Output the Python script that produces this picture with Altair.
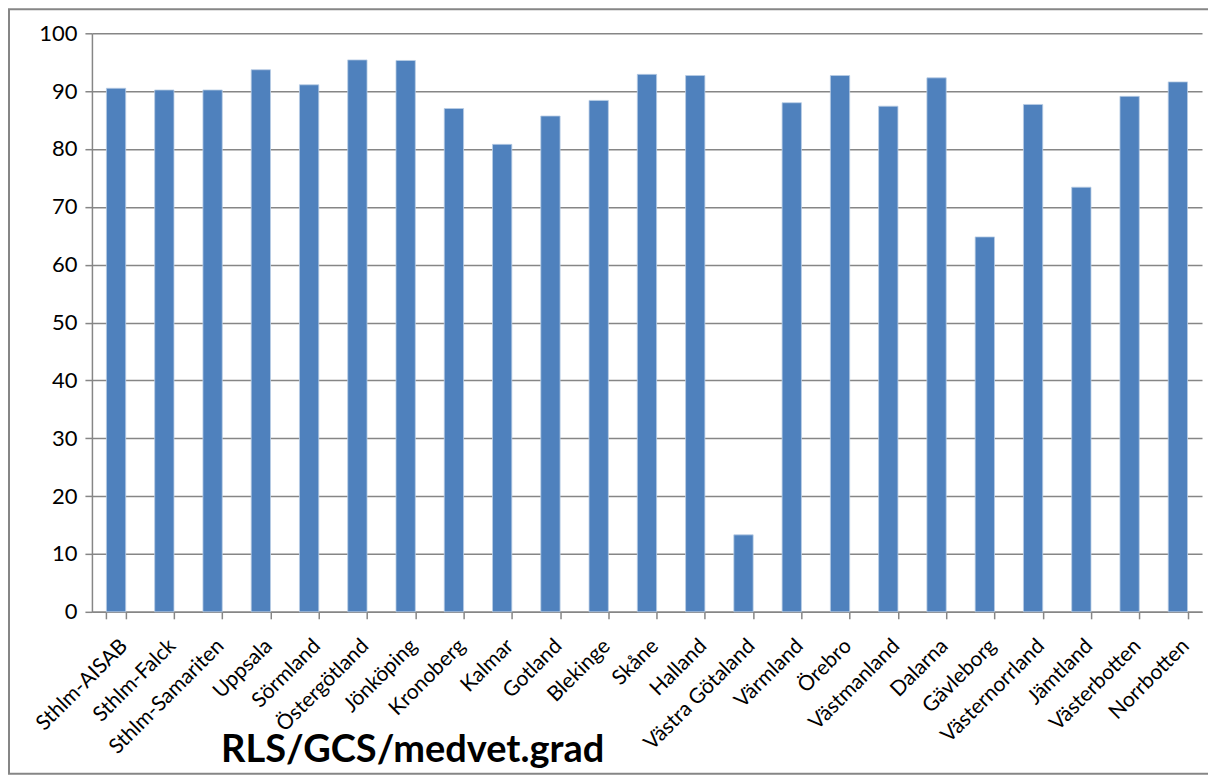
import altair as alt
import pandas as pd

categories = [
    "Sthlm-AISAB", "Sthlm-Falck", "Sthlm-Samariten", "Uppsala", "Sörmland",
    "Östergötland", "Jönköping", "Kronoberg", "Kalmar", "Gotland", "Blekinge",
    "Skåne", "Halland", "Västra Götaland", "Värmland", "Örebro", "Västmanland",
    "Dalarna", "Gävleborg", "Västernorrland", "Jämtland", "Västerbotten", "Norrbotten",
]
values = [
    90.5, 90.2, 90.2, 93.7, 91.1,
    95.4, 95.3, 87.0, 80.8, 85.7, 88.4,
    92.9, 92.7, 13.3, 88.0, 92.7, 87.4,
    92.3, 64.8, 87.7, 73.4, 89.1, 91.6,
]
y_ticks = [0, 10, 20, 30, 40, 50, 60, 70, 80, 90, 100]
title_text = "RLS/GCS/medvet.grad"

df = pd.DataFrame({"region": categories, "value": values})

W, H = 1111, 579
GRID = "#868686"
FONT = "Lato"

bars = alt.Chart(df).mark_bar(color="#4F81BD", stroke="#B9CDE5", strokeWidth=0.8).encode(
    x=alt.X(
        "region:N",
        sort=categories,
        scale=alt.Scale(paddingInner=0.6, paddingOuter=0.3),
        axis=alt.Axis(
            title=None, labelAngle=-45, labelFontSize=21, labelFont=FONT,
            labelColor="black", tickBand="extent", tickSize=7, tickColor=GRID,
            tickWidth=1.5, domainColor=GRID, domainWidth=1.5, grid=False,
            labelPadding=16,
        ),
    ),
    y=alt.Y(
        "value:Q",
        scale=alt.Scale(domain=[0, 100], nice=False),
        axis=alt.Axis(
            title=None, values=y_ticks, grid=True, gridColor=GRID, gridWidth=1.5,
            gridOpacity=1, labelFontSize=22, labelFont=FONT, labelColor="black",
            tickSize=7, tickColor=GRID, tickWidth=1.5, domainColor=GRID,
            domainWidth=1.5, labelPadding=8,
        ),
    ),
)

frame = alt.Chart(pd.DataFrame({"f": [1]})).mark_rect(
    fill=None, stroke=GRID, strokeWidth=2
).encode(
    x=alt.value(-83), x2=alt.value(1118), y=alt.value(-24), y2=alt.value(741)
)

title = alt.Chart(pd.DataFrame({"t": [title_text]})).mark_text(
    font=FONT, fontSize=38, fontWeight="bold", color="black",
    align="center", baseline="alphabetic",
).encode(text="t:N", x=alt.value(321), y=alt.value(729))

chart = alt.layer(frame, bars, title).properties(
    width=W, height=H,
    autosize=alt.AutoSizeParams(type="none"),
    padding={"left": 84, "top": 25, "right": 6, "bottom": 163},
).configure_view(stroke=None)

chart.save("out.html", embed_options={"renderer": "svg", "actions": False})
